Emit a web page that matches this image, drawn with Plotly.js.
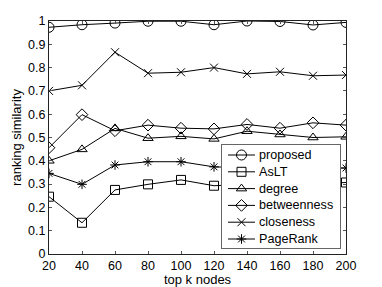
<!DOCTYPE html>
<html><head><meta charset="utf-8">
<script src="https://cdn.plot.ly/plotly-3.0.1.min.js"></script>
<style>html,body{margin:0;padding:0;background:#fff;}#chart{width:382px;height:287px;}</style>
</head><body><div id="chart"></div>
<script>
const topK = [20, 40, 60, 80, 100, 120, 140, 160, 180, 200];
const proposed = [0.973, 0.984, 0.991, 0.999, 0.999, 0.984, 1.0, 0.998, 0.983, 0.994];
const asLT = [0.246, 0.134, 0.275, 0.299, 0.318, 0.293, 0.30, 0.30, 0.30, 0.307];
const degree = [0.40, 0.449, 0.539, 0.497, 0.505, 0.494, 0.527, 0.513, 0.50, 0.503];
const betweenness = [0.456, 0.598, 0.529, 0.553, 0.54, 0.537, 0.556, 0.54, 0.563, 0.553];
const closeness = [0.70, 0.724, 0.866, 0.776, 0.78, 0.80, 0.773, 0.782, 0.765, 0.768];
const pageRank = [0.346, 0.299, 0.382, 0.396, 0.396, 0.374, 0.37, 0.37, 0.37, 0.369];
const seriesNames = ['proposed', 'AsLT', 'degree', 'betweenness', 'closeness', 'PageRank'];
const yTicks = [0, 0.1, 0.2, 0.3, 0.4, 0.5, 0.6, 0.7, 0.8, 0.9, 1];
const yTickText = ['0', '0.1', '0.2', '0.3', '0.4', '0.5', '0.6', '0.7', '0.8', '0.9', '1'];

const seriesValues = [proposed, asLT, degree, betweenness, closeness, pageRank];
const symbols = ['circle-open', 'square-open', 'triangle-up-open', 'diamond-open', 'x-thin-open', 'asterisk-open'];
const sizes = [10, 9, 9, 9, 8, 8];

const data = [];
seriesValues.forEach(function (vals, i) {
  data.push({x: topK, y: vals, name: seriesNames[i], type: 'scatter', mode: 'lines+markers',
    showlegend: false, xaxis: 'x', yaxis: 'y',
    line: {color: '#000', width: 1},
    marker: {symbol: symbols[i], size: sizes[i], color: '#000', line: {color: '#000', width: 1}}});
});

// custom legend box (drawn in its own small subplot, units = pixels)
const LW = 118, LH = 103, rowTop = 10, rowStep = 16.8;
const annotations = [];
seriesNames.forEach(function (name, i) {
  const ry = rowTop + i * rowStep;
  data.push({x: [6, 33], y: [ry, ry], mode: 'lines', xaxis: 'x2', yaxis: 'y2', showlegend: false,
    hoverinfo: 'skip', line: {color: '#000', width: 1}});
  data.push({x: [19.5], y: [ry], mode: 'markers', xaxis: 'x2', yaxis: 'y2', showlegend: false,
    hoverinfo: 'skip',
    marker: {symbol: symbols[i], size: sizes[i], color: '#000', line: {color: '#000', width: 1}}});
  annotations.push({xref: 'x2', yref: 'y2', x: 35, y: ry, text: name, showarrow: false,
    xanchor: 'left', yanchor: 'middle', font: {size: 12.6, color: '#000'}});
});

const layout = {
  width: 382, height: 287,
  margin: {l: 49, r: 36, t: 21, b: 33},
  paper_bgcolor: '#fff', plot_bgcolor: '#fff',
  font: {family: 'Liberation Sans, Arial, sans-serif', size: 12.5, color: '#000'},
  showlegend: false,
  xaxis: {domain: [0, 1], range: [20, 200], tickvals: topK, ticks: 'inside', ticklen: 3, tickcolor: '#555',
    showline: true, linecolor: '#222', linewidth: 1, mirror: 'ticks', showgrid: false, zeroline: false,
    title: {text: 'top k nodes', font: {size: 13}, standoff: 2}, tickfont: {size: 12.5}},
  yaxis: {domain: [0, 1], range: [0, 1], tickvals: yTicks, ticktext: yTickText, ticks: 'inside', ticklen: 3, tickcolor: '#555',
    showline: true, linecolor: '#222', linewidth: 1, mirror: 'ticks', showgrid: false, zeroline: false,
    title: {text: 'ranking similarity', font: {size: 13}, standoff: 3}, tickfont: {size: 12.5}},
  xaxis2: {domain: [(222 - 49) / 297, (340 - 49) / 297], range: [0, LW], anchor: 'y2',
    showline: true, mirror: true, linecolor: '#666', linewidth: 1, showgrid: false, zeroline: false,
    showticklabels: false, ticks: '', fixedrange: true},
  yaxis2: {domain: [(254 - 248) / 233, (254 - 145) / 233], range: [LH, 0], anchor: 'x2',
    showline: true, mirror: true, linecolor: '#666', linewidth: 1, showgrid: false, zeroline: false,
    showticklabels: false, ticks: '', fixedrange: true},
  annotations: annotations
};
Plotly.newPlot('chart', data, layout, {displayModeBar: false, staticPlot: true});
</script></body></html>
